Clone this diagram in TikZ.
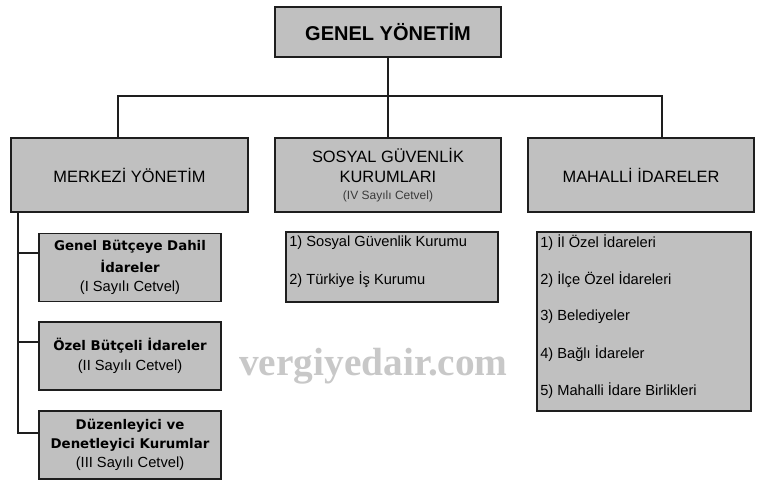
\documentclass[tikz,border=0pt]{standalone}
\usepackage{fontspec}
\setmainfont{Liberation Sans}
\newfontfamily\subfont{DejaVu Sans}
\newfontfamily\markfont{Liberation Serif}
\usetikzlibrary{positioning}
\definecolor{boxgray}{HTML}{C0C0C0}
\definecolor{linedark}{HTML}{1E1E1E}
\definecolor{notegray}{HTML}{3A3A3A}
\definecolor{markgray}{HTML}{C8C8C8}
\newcommand{\cetvel}[1]{{\normalfont\fontsize{11}{14.5}\selectfont(#1 Sayılı Cetvel)}}
\begin{document}
\begin{tikzpicture}
[ x=0.75pt, y=-0.75pt
, box/.style={rectangle, draw=linedark, fill=boxgray, inner sep=0pt, align=center, text=black}
, topbox/.style={box, line width=1.5pt, minimum width=169.5pt, minimum height=37.5pt, font=\bfseries\fontsize{15}{18}\selectfont}
, headbox/.style={box, line width=1.5pt, minimum width=169.5pt, minimum height=55.5pt, font=\fontsize{12.3}{15}\selectfont}
, subbox/.style={box, line width=1.1pt, minimum width=136.5pt, minimum height=51pt, font=\subfont\bfseries\fontsize{10}{14.5}\selectfont}
, listbox/.style={box, line width=1pt}
, item/.style={anchor=west, inner sep=0pt, font=\fontsize{11}{13}\selectfont}
, tree/.style={draw=linedark, line width=1.5pt}
, spine/.style={draw=linedark, line width=1pt}
]
\useasboundingbox (0,0) rectangle (767,485);
% Top level
\node (genel) [topbox] at (388,32) {GENEL YÖNETİM};
% Second level
\node (merkezi) [headbox, minimum width=177.75pt] at (129.5,175) {MERKEZİ YÖNETİM};
\node (sosyal) [headbox] at (388,175) {SOSYAL GÜVENLİK\\KURUMLARI\\[-2.2pt]{\color{notegray}\fontsize{9}{11}\selectfont(IV Sayılı Cetvel)}};
\node (mahalli) [headbox] at (641,175) {MAHALLİ İDARELER};
% Merkezi yonetim parts
\node (butce) [subbox] at (130,267.5) {Genel Bütçeye Dahil\\[1.5pt]İdareler\\\cetvel{I}};
\node (ozel) [subbox] at (130,356) {Özel Bütçeli İdareler\\\cetvel{II}};
\node (duzen) [subbox] at (130,445) {Düzenleyici ve\\Denetleyici Kurumlar\\\cetvel{III}};
% Lists
\node (sgklist) [listbox, minimum width=159pt, minimum height=52.5pt] at (392,267) {};
\node (mahlist) [listbox, minimum width=160.5pt, minimum height=134.25pt] at (644,321.5) {};
\foreach \t [count=\i] in {{1) Sosyal Güvenlik Kurumu}, {2) Türkiye İş Kurumu}}
  \node (sgk\i) [item] at (289,{243+37*(\i-1)}) {\t};
\foreach \t [count=\i] in {{1) İl Özel İdareleri}, {2) İlçe Özel İdareleri}, {3) Belediyeler}, {4) Bağlı İdareler}, {5) Mahalli İdare Birlikleri}}
  \node (mah\i) [item] at (540,{243+36.8*(\i-1)}) {\t};
% Watermark
\node (mark) [anchor=base, inner sep=0pt, text=markgray, font=\markfont\bfseries\fontsize{29.5}{30}\selectfont] at (373.5,375) {vergiyedair.com};
% Connectors
\coordinate (busl) at (118,96);
\coordinate (busr) at (662,96);
\draw [tree] (genel.south) -- (sosyal.north -| genel.south);
\draw [tree] (merkezi.north -| busl) -- (busl) -- (busr) -- (mahalli.north -| busr);
\coordinate (spinetop) at (18,212);
\coordinate (butce-y) at ([yshift=10.9pt]butce.west);
\coordinate (ozel-y) at ([yshift=10.5pt]ozel.west);
\coordinate (duzen-y) at ([yshift=9pt]duzen.west);
\draw [spine] (merkezi.south -| spinetop) |- (duzen-y);
\draw [spine] (spinetop |- butce-y) -- (butce-y);
\draw [spine] (spinetop |- ozel-y) -- (ozel-y);
\end{tikzpicture}
\end{document}
